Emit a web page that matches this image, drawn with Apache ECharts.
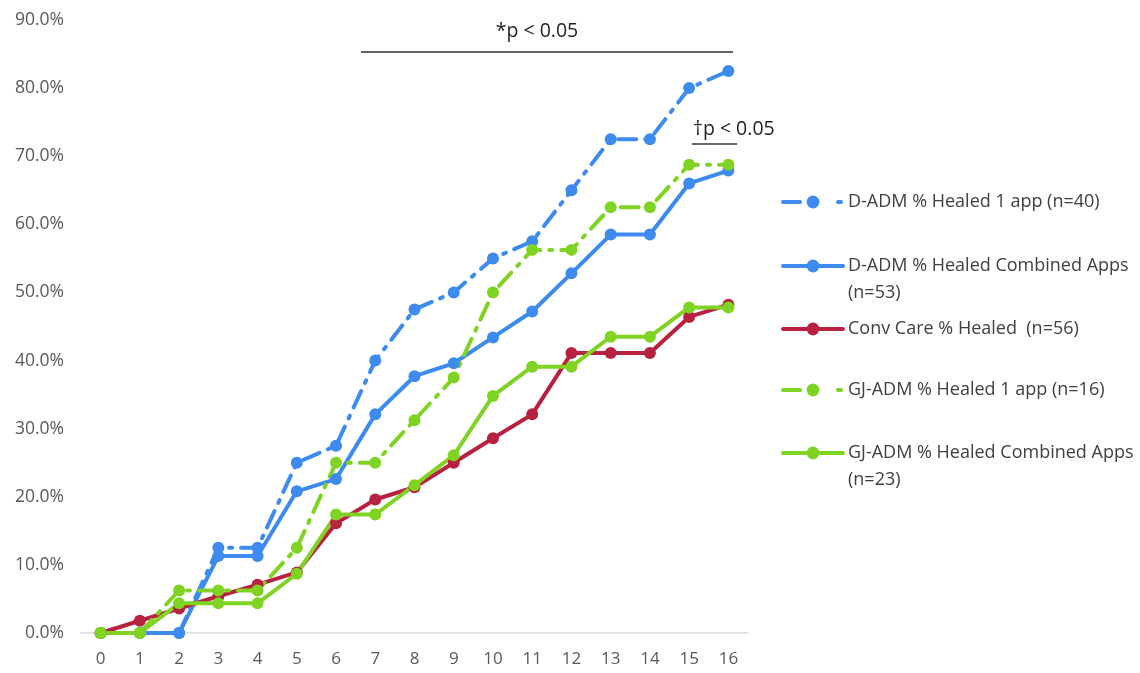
<!DOCTYPE html>
<html>
<head>
<meta charset="utf-8">
<script src="https://cdn.jsdelivr.net/npm/echarts@6/dist/echarts.min.js"></script>
<style>html,body{margin:0;padding:0;background:#fff}#c{width:1140px;height:673px}</style>
</head>
<body>
<div id="c"></div>
<script>
var categories = ['0','1','2','3','4','5','6','7','8','9','10','11','12','13','14','15','16'];
var yTicks = [0, 10, 20, 30, 40, 50, 60, 70, 80, 90];
var dAdm1 = [0, 0, 0, 12.5, 12.5, 25.0, 27.5, 40.0, 47.5, 50.0, 55.0, 57.5, 65.0, 72.5, 72.5, 80.0, 82.5];
var dAdmComb = [0, 0, 0, 11.3, 11.3, 20.8, 22.6, 32.1, 37.7, 39.6, 43.4, 47.2, 52.8, 58.5, 58.5, 66.0, 67.9];
var convCare = [0, 1.8, 3.6, 5.4, 7.1, 8.9, 16.1, 19.6, 21.4, 25.0, 28.6, 32.1, 41.1, 41.1, 41.1, 46.4, 48.2];
var gjAdm1 = [0, 0, 6.25, 6.25, 6.25, 12.5, 25.0, 25.0, 31.25, 37.5, 50.0, 56.25, 56.25, 62.5, 62.5, 68.75, 68.75];
var gjAdmComb = [0, 0, 4.35, 4.35, 4.35, 8.7, 17.4, 17.4, 21.7, 26.1, 34.8, 39.1, 39.1, 43.5, 43.5, 47.8, 47.8];
var names = [
  'D-ADM % Healed 1 app (n=40)',
  'D-ADM % Healed Combined Apps\n(n=53)',
  'Conv Care % Healed  (n=56)',
  'GJ-ADM % Healed 1 app (n=16)',
  'GJ-ADM % Healed Combined Apps\n(n=23)'
];
var annot1 = '*p < 0.05';
var annot2 = '\u2020p < 0.05';

var BLUE = '#3d8bef', RED = '#b8213f', GREEN = '#7fd322';
var FONT = 'Open Sans';
var dashDot = [18, 9, 3, 9];
var legendDashDot = [17, 38, 3, 20];

function mk(name, data, color, dashed) {
  return {
    name: name, type: 'line', data: data,
    symbol: 'circle', symbolSize: 12,
    itemStyle: { color: color },
    lineStyle: { color: color, width: 4, type: dashed ? dashDot : 'solid', cap: 'round' },
    emphasis: { disabled: true },
    animation: false
  };
}

var LH = 27;
function lg(name, iconCenter, twoLine, dashed) {
  var top = twoLine ? iconCenter - 1.5 * LH : iconCenter - 0.5 * LH;
  return {
    data: [name], left: 781, top: top, orient: 'vertical', padding: 0,
    itemWidth: 60, itemHeight: 16, itemGap: 0,
    lineStyle: dashed ? { width: 4, type: legendDashDot } : { width: 4 },
    formatter: twoLine ? function (n) { return '\u00a0\n' + n; } : null,
    textStyle: { fontFamily: FONT, fontSize: 18, color: '#404040', lineHeight: LH },
    selectedMode: false
  };
}

var chart = echarts.init(document.getElementById('c'));
chart.setOption({
  backgroundColor: '#fff',
  animation: false,
  grid: { left: 81, right: 392, top: 20, bottom: 40, containLabel: false },
  xAxis: {
    type: 'category', data: categories, boundaryGap: true,
    axisLine: { lineStyle: { color: '#d9d9d9', width: 1.5 } },
    axisTick: { show: false },
    axisLabel: { fontFamily: FONT, fontSize: 17, color: '#595959', margin: 18 }
  },
  yAxis: {
    type: 'value', min: yTicks[0], max: yTicks[yTicks.length - 1], interval: 10,
    axisLine: { show: false }, axisTick: { show: false }, splitLine: { show: false },
    axisLabel: { fontFamily: FONT, fontSize: 17.5, color: '#595959', margin: 17,
      formatter: function (v) { return v.toFixed(1) + '%'; } }
  },
  legend: [
    lg(names[0], 202, false, true),
    lg(names[1], 266, true, false),
    lg(names[2], 329, false, false),
    lg(names[3], 390, false, true),
    lg(names[4], 453, true, false)
  ],
  series: [
    mk(names[0], dAdm1, BLUE, true),
    mk(names[1], dAdmComb, BLUE, false),
    mk(names[2], convCare, RED, false),
    mk(names[3], gjAdm1, GREEN, true),
    mk(names[4], gjAdmComb, GREEN, false)
  ],
  graphic: [
    { type: 'line', shape: { x1: 361, y1: 52, x2: 733, y2: 52 }, style: { stroke: '#333', lineWidth: 1.5 } },
    { type: 'text', x: 537, y: 31, style: { text: annot1, fontFamily: FONT, fontSize: 19.5, fill: '#222', align: 'center', verticalAlign: 'middle' } },
    { type: 'line', shape: { x1: 692, y1: 144, x2: 737, y2: 144 }, style: { stroke: '#333', lineWidth: 1.5 } },
    { type: 'text', x: 693, y: 129, style: { text: annot2, fontFamily: FONT, fontSize: 19.5, fill: '#222', align: 'left', verticalAlign: 'middle' } }
  ]
});
</script>
</body>
</html>
